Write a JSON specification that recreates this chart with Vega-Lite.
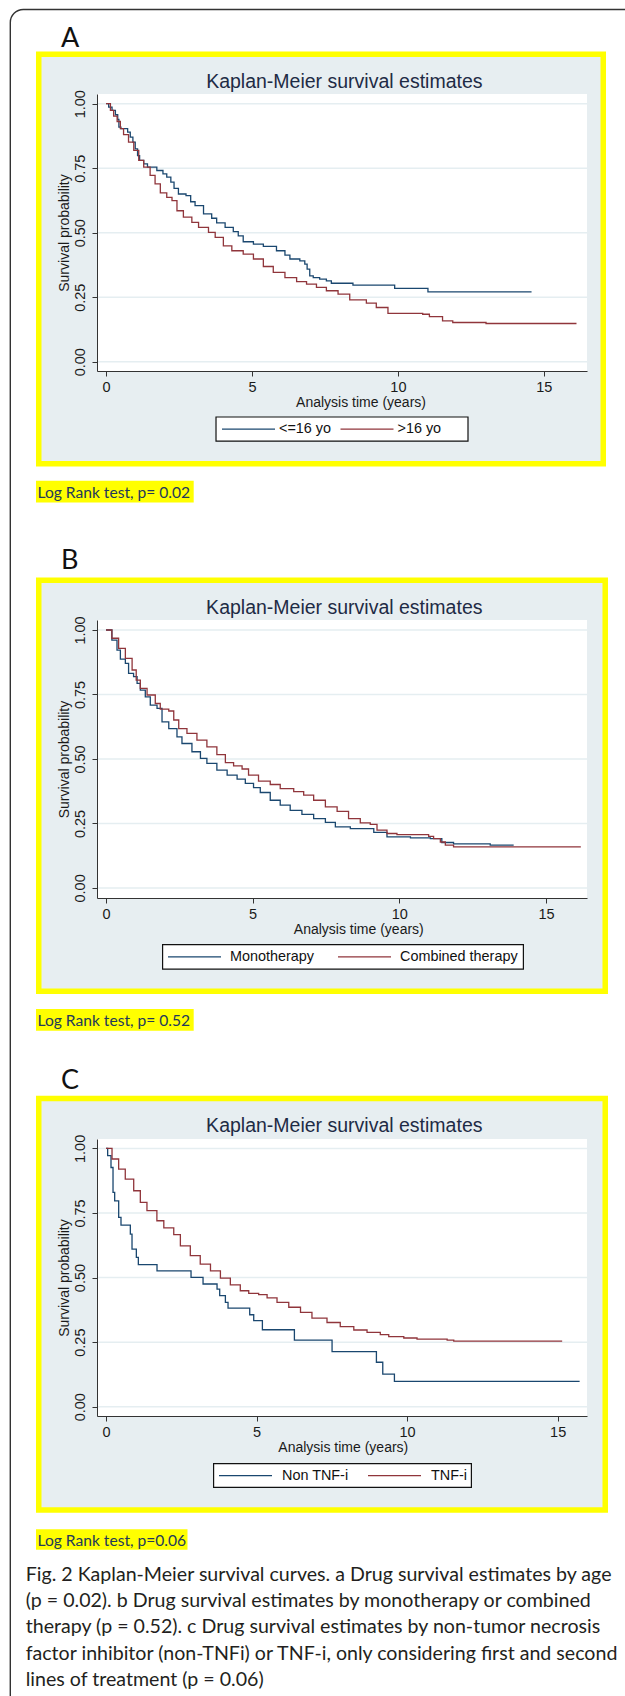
{
"$schema": "https://vega.github.io/schema/vega-lite/v6.json",
"background": "#ffffff",
"padding": 0,
"autosize": {"type": "pad"},
"bounds": "flush",
"spacing": 249,
"resolve": {"scale": {"color": "independent"}, "legend": {"color": "independent"}},
"config": {
  "view": {"stroke": null},
  "line": {"interpolate": "step-after", "strokeWidth": 1.3},
  "axis": {"domainColor": "#333333", "tickColor": "#333333", "labelColor": "#1a1a1a", "titleColor": "#1a1a1a", "labelFont": "Liberation Sans Narrow, Liberation Sans", "titleFont": "Liberation Sans", "labelFontSize": 14.5, "titleFontSize": 14, "titleFontWeight": "normal", "tickSize": 5, "grid": false, "labelFlush": false, "domainWidth": 1, "tickWidth": 1},
  "axisX": {"labelPadding": 4.5},
  "axisY": {"labelAngle": 270, "labelAlign": "center", "labelBaseline": "bottom", "labelPadding": 5}
},
"datasets": {
  "a": [
    {"t":0,"s":1,"g":"<=16 yo"},{"t":0.09,"s":0.987,"g":"<=16 yo"},{"t":0.205,"s":0.974,"g":"<=16 yo"},{"t":0.32,"s":0.957,"g":"<=16 yo"},{"t":0.4,"s":0.939,"g":"<=16 yo"},{"t":0.44,"s":0.909,"g":"<=16 yo"},{"t":0.51,"s":0.903,"g":"<=16 yo"},{"t":0.74,"s":0.89,"g":"<=16 yo"},{"t":0.83,"s":0.87,"g":"<=16 yo"},{"t":0.92,"s":0.851,"g":"<=16 yo"},{"t":1.0,"s":0.825,"g":"<=16 yo"},{"t":1.08,"s":0.799,"g":"<=16 yo"},{"t":1.15,"s":0.78,"g":"<=16 yo"},{"t":1.29,"s":0.767,"g":"<=16 yo"},{"t":1.42,"s":0.754,"g":"<=16 yo"},{"t":1.74,"s":0.741,"g":"<=16 yo"},{"t":1.95,"s":0.728,"g":"<=16 yo"},{"t":2.08,"s":0.715,"g":"<=16 yo"},{"t":2.22,"s":0.696,"g":"<=16 yo"},{"t":2.33,"s":0.672,"g":"<=16 yo"},{"t":2.48,"s":0.65,"g":"<=16 yo"},{"t":2.74,"s":0.644,"g":"<=16 yo"},{"t":2.9,"s":0.62,"g":"<=16 yo"},{"t":3.05,"s":0.605,"g":"<=16 yo"},{"t":3.34,"s":0.573,"g":"<=16 yo"},{"t":3.62,"s":0.556,"g":"<=16 yo"},{"t":3.79,"s":0.538,"g":"<=16 yo"},{"t":4.08,"s":0.521,"g":"<=16 yo"},{"t":4.36,"s":0.504,"g":"<=16 yo"},{"t":4.53,"s":0.488,"g":"<=16 yo"},{"t":4.7,"s":0.465,"g":"<=16 yo"},{"t":5.05,"s":0.456,"g":"<=16 yo"},{"t":5.39,"s":0.447,"g":"<=16 yo"},{"t":5.84,"s":0.43,"g":"<=16 yo"},{"t":6.13,"s":0.413,"g":"<=16 yo"},{"t":6.3,"s":0.398,"g":"<=16 yo"},{"t":6.64,"s":0.391,"g":"<=16 yo"},{"t":6.81,"s":0.378,"g":"<=16 yo"},{"t":6.89,"s":0.359,"g":"<=16 yo"},{"t":6.98,"s":0.333,"g":"<=16 yo"},{"t":7.1,"s":0.326,"g":"<=16 yo"},{"t":7.32,"s":0.32,"g":"<=16 yo"},{"t":7.55,"s":0.313,"g":"<=16 yo"},{"t":7.72,"s":0.304,"g":"<=16 yo"},{"t":8.46,"s":0.297,"g":"<=16 yo"},{"t":9.89,"s":0.284,"g":"<=16 yo"},{"t":11.03,"s":0.271,"g":"<=16 yo"},{"t":14.58,"s":0.271,"g":"<=16 yo"},
    {"t":0,"s":1,"g":">16 yo"},{"t":0.15,"s":0.974,"g":">16 yo"},{"t":0.26,"s":0.952,"g":">16 yo"},{"t":0.38,"s":0.931,"g":">16 yo"},{"t":0.49,"s":0.903,"g":">16 yo"},{"t":0.6,"s":0.88,"g":">16 yo"},{"t":0.77,"s":0.851,"g":">16 yo"},{"t":0.95,"s":0.819,"g":">16 yo"},{"t":1.12,"s":0.78,"g":">16 yo"},{"t":1.29,"s":0.754,"g":">16 yo"},{"t":1.51,"s":0.722,"g":">16 yo"},{"t":1.68,"s":0.689,"g":">16 yo"},{"t":1.86,"s":0.654,"g":">16 yo"},{"t":2.08,"s":0.637,"g":">16 yo"},{"t":2.26,"s":0.624,"g":">16 yo"},{"t":2.43,"s":0.585,"g":">16 yo"},{"t":2.65,"s":0.56,"g":">16 yo"},{"t":2.94,"s":0.54,"g":">16 yo"},{"t":3.17,"s":0.521,"g":">16 yo"},{"t":3.51,"s":0.501,"g":">16 yo"},{"t":3.74,"s":0.482,"g":">16 yo"},{"t":4.02,"s":0.449,"g":">16 yo"},{"t":4.31,"s":0.43,"g":">16 yo"},{"t":4.7,"s":0.417,"g":">16 yo"},{"t":5.05,"s":0.398,"g":">16 yo"},{"t":5.39,"s":0.369,"g":">16 yo"},{"t":5.73,"s":0.346,"g":">16 yo"},{"t":6.13,"s":0.326,"g":">16 yo"},{"t":6.53,"s":0.31,"g":">16 yo"},{"t":6.87,"s":0.301,"g":">16 yo"},{"t":7.21,"s":0.288,"g":">16 yo"},{"t":7.55,"s":0.275,"g":">16 yo"},{"t":7.95,"s":0.262,"g":">16 yo"},{"t":8.35,"s":0.24,"g":">16 yo"},{"t":8.92,"s":0.227,"g":">16 yo"},{"t":9.26,"s":0.21,"g":">16 yo"},{"t":9.66,"s":0.187,"g":">16 yo"},{"t":10.85,"s":0.184,"g":">16 yo"},{"t":11.08,"s":0.175,"g":">16 yo"},{"t":11.53,"s":0.158,"g":">16 yo"},{"t":11.88,"s":0.152,"g":">16 yo"},{"t":13.02,"s":0.148,"g":">16 yo"},{"t":16.12,"s":0.148,"g":">16 yo"}
  ],
  "b": [
    {"t":0,"s":1,"g":"Monotherapy"},{"t":0.2,"s":0.961,"g":"Monotherapy"},{"t":0.375,"s":0.922,"g":"Monotherapy"},{"t":0.49,"s":0.887,"g":"Monotherapy"},{"t":0.66,"s":0.871,"g":"Monotherapy"},{"t":0.77,"s":0.832,"g":"Monotherapy"},{"t":0.94,"s":0.819,"g":"Monotherapy"},{"t":1.06,"s":0.793,"g":"Monotherapy"},{"t":1.17,"s":0.767,"g":"Monotherapy"},{"t":1.34,"s":0.741,"g":"Monotherapy"},{"t":1.51,"s":0.709,"g":"Monotherapy"},{"t":1.74,"s":0.696,"g":"Monotherapy"},{"t":1.91,"s":0.644,"g":"Monotherapy"},{"t":2.14,"s":0.618,"g":"Monotherapy"},{"t":2.42,"s":0.586,"g":"Monotherapy"},{"t":2.59,"s":0.56,"g":"Monotherapy"},{"t":2.93,"s":0.528,"g":"Monotherapy"},{"t":3.22,"s":0.502,"g":"Monotherapy"},{"t":3.44,"s":0.483,"g":"Monotherapy"},{"t":3.78,"s":0.457,"g":"Monotherapy"},{"t":4.13,"s":0.437,"g":"Monotherapy"},{"t":4.47,"s":0.422,"g":"Monotherapy"},{"t":4.75,"s":0.405,"g":"Monotherapy"},{"t":5.03,"s":0.389,"g":"Monotherapy"},{"t":5.26,"s":0.37,"g":"Monotherapy"},{"t":5.6,"s":0.34,"g":"Monotherapy"},{"t":5.94,"s":0.321,"g":"Monotherapy"},{"t":6.28,"s":0.301,"g":"Monotherapy"},{"t":6.68,"s":0.285,"g":"Monotherapy"},{"t":7.08,"s":0.269,"g":"Monotherapy"},{"t":7.48,"s":0.254,"g":"Monotherapy"},{"t":7.82,"s":0.237,"g":"Monotherapy"},{"t":8.33,"s":0.23,"g":"Monotherapy"},{"t":9.13,"s":0.215,"g":"Monotherapy"},{"t":9.58,"s":0.198,"g":"Monotherapy"},{"t":10.38,"s":0.194,"g":"Monotherapy"},{"t":11.06,"s":0.191,"g":"Monotherapy"},{"t":11.45,"s":0.176,"g":"Monotherapy"},{"t":11.85,"s":0.171,"g":"Monotherapy"},{"t":13.1,"s":0.166,"g":"Monotherapy"},{"t":13.9,"s":0.166,"g":"Monotherapy"},
    {"t":0,"s":1,"g":"Combined therapy"},{"t":0.2,"s":0.968,"g":"Combined therapy"},{"t":0.43,"s":0.929,"g":"Combined therapy"},{"t":0.66,"s":0.89,"g":"Combined therapy"},{"t":0.89,"s":0.845,"g":"Combined therapy"},{"t":1.03,"s":0.806,"g":"Combined therapy"},{"t":1.17,"s":0.774,"g":"Combined therapy"},{"t":1.4,"s":0.748,"g":"Combined therapy"},{"t":1.68,"s":0.715,"g":"Combined therapy"},{"t":1.85,"s":0.693,"g":"Combined therapy"},{"t":2.14,"s":0.686,"g":"Combined therapy"},{"t":2.31,"s":0.651,"g":"Combined therapy"},{"t":2.48,"s":0.618,"g":"Combined therapy"},{"t":2.76,"s":0.599,"g":"Combined therapy"},{"t":3.1,"s":0.573,"g":"Combined therapy"},{"t":3.44,"s":0.547,"g":"Combined therapy"},{"t":3.78,"s":0.517,"g":"Combined therapy"},{"t":4.07,"s":0.486,"g":"Combined therapy"},{"t":4.35,"s":0.473,"g":"Combined therapy"},{"t":4.64,"s":0.461,"g":"Combined therapy"},{"t":4.86,"s":0.437,"g":"Combined therapy"},{"t":5.2,"s":0.414,"g":"Combined therapy"},{"t":5.6,"s":0.401,"g":"Combined therapy"},{"t":5.94,"s":0.385,"g":"Combined therapy"},{"t":6.4,"s":0.373,"g":"Combined therapy"},{"t":6.74,"s":0.36,"g":"Combined therapy"},{"t":7.08,"s":0.34,"g":"Combined therapy"},{"t":7.48,"s":0.314,"g":"Combined therapy"},{"t":7.88,"s":0.297,"g":"Combined therapy"},{"t":8.27,"s":0.269,"g":"Combined therapy"},{"t":8.67,"s":0.252,"g":"Combined therapy"},{"t":9.01,"s":0.246,"g":"Combined therapy"},{"t":9.24,"s":0.224,"g":"Combined therapy"},{"t":9.58,"s":0.211,"g":"Combined therapy"},{"t":9.92,"s":0.207,"g":"Combined therapy"},{"t":11.0,"s":0.2,"g":"Combined therapy"},{"t":11.17,"s":0.191,"g":"Combined therapy"},{"t":11.4,"s":0.178,"g":"Combined therapy"},{"t":11.57,"s":0.166,"g":"Combined therapy"},{"t":11.85,"s":0.159,"g":"Combined therapy"},{"t":16.19,"s":0.159,"g":"Combined therapy"}
  ],
  "c": [
    {"t":0,"s":1,"g":"Non TNF-i"},{"t":0.055,"s":0.972,"g":"Non TNF-i"},{"t":0.166,"s":0.926,"g":"Non TNF-i"},{"t":0.233,"s":0.83,"g":"Non TNF-i"},{"t":0.288,"s":0.797,"g":"Non TNF-i"},{"t":0.421,"s":0.733,"g":"Non TNF-i"},{"t":0.498,"s":0.703,"g":"Non TNF-i"},{"t":0.808,"s":0.668,"g":"Non TNF-i"},{"t":0.864,"s":0.61,"g":"Non TNF-i"},{"t":1.008,"s":0.578,"g":"Non TNF-i"},{"t":1.074,"s":0.55,"g":"Non TNF-i"},{"t":1.694,"s":0.526,"g":"Non TNF-i"},{"t":2.824,"s":0.501,"g":"Non TNF-i"},{"t":3.223,"s":0.475,"g":"Non TNF-i"},{"t":3.688,"s":0.455,"g":"Non TNF-i"},{"t":3.776,"s":0.43,"g":"Non TNF-i"},{"t":3.965,"s":0.404,"g":"Non TNF-i"},{"t":4.053,"s":0.382,"g":"Non TNF-i"},{"t":4.773,"s":0.356,"g":"Non TNF-i"},{"t":4.906,"s":0.333,"g":"Non TNF-i"},{"t":5.194,"s":0.298,"g":"Non TNF-i"},{"t":6.257,"s":0.258,"g":"Non TNF-i"},{"t":7.508,"s":0.213,"g":"Non TNF-i"},{"t":8.981,"s":0.172,"g":"Non TNF-i"},{"t":9.192,"s":0.126,"g":"Non TNF-i"},{"t":9.579,"s":0.098,"g":"Non TNF-i"},{"t":15.73,"s":0.098,"g":"Non TNF-i"},
    {"t":0,"s":1,"g":"TNF-i"},{"t":0.2,"s":0.959,"g":"TNF-i"},{"t":0.42,"s":0.92,"g":"TNF-i"},{"t":0.64,"s":0.881,"g":"TNF-i"},{"t":0.92,"s":0.836,"g":"TNF-i"},{"t":1.14,"s":0.791,"g":"TNF-i"},{"t":1.36,"s":0.759,"g":"TNF-i"},{"t":1.69,"s":0.72,"g":"TNF-i"},{"t":1.92,"s":0.692,"g":"TNF-i"},{"t":2.25,"s":0.666,"g":"TNF-i"},{"t":2.47,"s":0.623,"g":"TNF-i"},{"t":2.8,"s":0.585,"g":"TNF-i"},{"t":3.13,"s":0.552,"g":"TNF-i"},{"t":3.47,"s":0.526,"g":"TNF-i"},{"t":3.8,"s":0.498,"g":"TNF-i"},{"t":4.13,"s":0.472,"g":"TNF-i"},{"t":4.46,"s":0.449,"g":"TNF-i"},{"t":4.74,"s":0.439,"g":"TNF-i"},{"t":5.07,"s":0.434,"g":"TNF-i"},{"t":5.35,"s":0.421,"g":"TNF-i"},{"t":5.68,"s":0.404,"g":"TNF-i"},{"t":6.07,"s":0.385,"g":"TNF-i"},{"t":6.46,"s":0.365,"g":"TNF-i"},{"t":6.84,"s":0.343,"g":"TNF-i"},{"t":7.34,"s":0.326,"g":"TNF-i"},{"t":7.78,"s":0.31,"g":"TNF-i"},{"t":8.23,"s":0.297,"g":"TNF-i"},{"t":8.67,"s":0.288,"g":"TNF-i"},{"t":9.11,"s":0.279,"g":"TNF-i"},{"t":9.39,"s":0.271,"g":"TNF-i"},{"t":9.89,"s":0.266,"g":"TNF-i"},{"t":10.33,"s":0.262,"g":"TNF-i"},{"t":11.33,"s":0.258,"g":"TNF-i"},{"t":11.55,"s":0.254,"g":"TNF-i"},{"t":15.15,"s":0.254,"g":"TNF-i"}
  ]
},
"vconcat": [
  {
    "width": 490, "height": 277,
    "data": {"name": "a"},
    "layer": [
      {"data": {"values": [{}]}, "mark": {"type": "rect", "fill": "#ffffff", "strokeWidth": 0},
       "encoding": {"x": {"datum": -3.5995, "type": "quantitative", "scale": {"domain": [-0.31, 16.48], "nice": false, "zero": false}}, "x2": {"datum": 17.816},
                    "y": {"datum": 1.39909, "type": "quantitative", "scale": {"domain": [-0.036, 1.0375], "nice": false, "zero": false}}, "y2": {"datum": -5.1738}}},
      {"data": {"values": [{}]}, "mark": {"type": "rect", "filled": false, "stroke": "#333333", "strokeWidth": 1.4, "cornerRadius": 13},
       "encoding": {"x": {"datum": -3.2808, "type": "quantitative", "scale": {"domain": [-0.31, 16.48], "nice": false, "zero": false}}, "x2": {"datum": 19.0157},
                    "y": {"datum": 1.36498, "type": "quantitative", "scale": {"domain": [-0.036, 1.0375], "nice": false, "zero": false}}, "y2": {"datum": -5.3056}}},
      {"data": {"values": [{}]}, "mark": {"type": "rect", "fill": "#e7eef1", "stroke": "#ffff00", "strokeWidth": 5.5},
       "encoding": {"x": {"datum": -2.306, "type": "quantitative", "scale": {"domain": [-0.31, 16.48], "nice": false, "zero": false}}, "x2": {"datum": 17.037},
                    "y": {"datum": 1.1919, "type": "quantitative", "scale": {"domain": [-0.036, 1.0375], "nice": false, "zero": false}}, "y2": {"datum": -0.3951}}},
      {"data": {"values": [{}]}, "mark": {"type": "rect", "fill": "#ffffff"},
       "encoding": {"x": {"datum": -0.31, "type": "quantitative", "scale": {"domain": [-0.31, 16.48], "nice": false, "zero": false}}, "x2": {"datum": 16.48},
                    "y": {"datum": -0.036, "type": "quantitative", "scale": {"domain": [-0.036, 1.0375], "nice": false, "zero": false}}, "y2": {"datum": 1.0375}}},
      {"data": {"values": [{"gy": 0}, {"gy": 0.25}, {"gy": 0.5}, {"gy": 0.75}, {"gy": 1}]}, "mark": {"type": "rule", "color": "#e5eef1", "strokeWidth": 1.5},
       "encoding": {"y": {"field": "gy", "type": "quantitative", "scale": {"domain": [-0.036, 1.0375], "nice": false, "zero": false}}}},
      {"mark": {"type": "line", "interpolate": "step-after", "strokeWidth": 1.3},
       "encoding": {
         "x": {"field": "t", "type": "quantitative", "scale": {"domain": [-0.31, 16.48], "nice": false, "zero": false}, "axis": {"zindex": 2, "values": [0, 5, 10, 15], "title": "Analysis time (years)", "titleX": 263.5, "titleY": 24}},
         "y": {"field": "s", "type": "quantitative", "scale": {"domain": [-0.036, 1.0375], "nice": false, "zero": false}, "axis": {"zindex": 2, "values": [0, 0.25, 0.5, 0.75, 1], "format": ".2f", "title": "Survival probability", "titleX": -26, "titleY": 138.5}},
         "color": {"field": "g", "type": "nominal", "scale": {"domain": ["<=16 yo", ">16 yo"], "range": ["#1a476f", "#90353b"]},
                   "legend": {"orient": "none", "legendX": 124, "legendY": 307.5, "direction": "horizontal", "title": null, "symbolType": "stroke", "symbolSize": 2809, "symbolStrokeWidth": 1.3, "labelFont": "Liberation Sans", "labelFontSize": 14.4, "labelColor": "#111111", "labelOffset": 3, "columnPadding": 5.5, "padding": 0, "labelLimit": 400}}
       }},
      {"data": {"values": [{}]}, "mark": {"type": "rect", "fill": "#ffffff", "stroke": "#111111", "strokeWidth": 1.2},
       "encoding": {"x": {"datum": 3.768, "type": "quantitative", "scale": {"domain": [-0.31, 16.48], "nice": false, "zero": false}}, "x2": {"datum": 12.4025},
                    "y": {"datum": -0.2143, "type": "quantitative", "scale": {"domain": [-0.036, 1.0375], "nice": false, "zero": false}}, "y2": {"datum": -0.3077}}},
      {"data": {"values": [{}]}, "mark": {"type": "text", "text": "Kaplan-Meier survival estimates", "font": "Liberation Sans", "fontSize": 19.5, "color": "#1e2b45", "align": "center", "baseline": "alphabetic"},
       "encoding": {"x": {"datum": 8.164, "type": "quantitative", "scale": {"domain": [-0.31, 16.48], "nice": false, "zero": false}},
                    "y": {"datum": 1.0619, "type": "quantitative", "scale": {"domain": [-0.036, 1.0375], "nice": false, "zero": false}}}},
      {"data": {"values": [{}]}, "mark": {"type": "text", "text": "A", "font": "Lato", "fontSize": 27, "color": "#111111", "align": "left", "baseline": "alphabetic"},
       "encoding": {"x": {"datum": -1.5436, "type": "quantitative", "scale": {"domain": [-0.31, 16.48], "nice": false, "zero": false}},
                    "y": {"datum": 1.2208, "type": "quantitative", "scale": {"domain": [-0.036, 1.0375], "nice": false, "zero": false}}}},
      {"data": {"values": [{}]}, "mark": {"type": "rect", "fill": "#ffff00"},
       "encoding": {"x": {"datum": -2.4002, "type": "quantitative", "scale": {"domain": [-0.31, 16.48], "nice": false, "zero": false}}, "x2": {"datum": 3.0035},
                    "y": {"datum": -0.4612, "type": "quantitative", "scale": {"domain": [-0.036, 1.0375], "nice": false, "zero": false}}, "y2": {"datum": -0.5453}}},
      {"data": {"values": [{}]}, "mark": {"type": "text", "text": "Log Rank test, p= 0.02", "font": "Lato", "fontSize": 15.6, "color": "#23395b", "align": "left", "baseline": "alphabetic"},
       "encoding": {"x": {"datum": -2.3488, "type": "quantitative", "scale": {"domain": [-0.31, 16.48], "nice": false, "zero": false}},
                    "y": {"datum": -0.5282, "type": "quantitative", "scale": {"domain": [-0.036, 1.0375], "nice": false, "zero": false}}}}
    ]
  },
  {
    "bounds": "flush",
    "spacing": 241,
    "resolve": {"scale": {"color": "independent"}, "legend": {"color": "independent"}},
    "vconcat": [
      {
        "width": 490, "height": 278,
        "data": {"name": "b"},
        "layer": [
          {"data": {"values": [{}]}, "mark": {"type": "rect", "fill": "#e7eef1", "stroke": "#ffff00", "strokeWidth": 5.5},
           "encoding": {"x": {"datum": -2.293, "type": "quantitative", "scale": {"domain": [-0.307, 16.4], "nice": false, "zero": false}}, "x2": {"datum": 17.0217},
                        "y": {"datum": 1.1933, "type": "quantitative", "scale": {"domain": [-0.0391, 1.0388], "nice": false, "zero": false}}, "y2": {"datum": -0.4007}}},
          {"data": {"values": [{}]}, "mark": {"type": "rect", "fill": "#ffffff"},
           "encoding": {"x": {"datum": -0.307, "type": "quantitative", "scale": {"domain": [-0.307, 16.4], "nice": false, "zero": false}}, "x2": {"datum": 16.4},
                        "y": {"datum": -0.0391, "type": "quantitative", "scale": {"domain": [-0.0391, 1.0388], "nice": false, "zero": false}}, "y2": {"datum": 1.0388}}},
          {"data": {"values": [{"gy": 0}, {"gy": 0.25}, {"gy": 0.5}, {"gy": 0.75}, {"gy": 1}]}, "mark": {"type": "rule", "color": "#e5eef1", "strokeWidth": 1.5},
           "encoding": {"y": {"field": "gy", "type": "quantitative", "scale": {"domain": [-0.0391, 1.0388], "nice": false, "zero": false}}}},
          {"mark": {"type": "line", "interpolate": "step-after", "strokeWidth": 1.3},
           "encoding": {
             "x": {"field": "t", "type": "quantitative", "scale": {"domain": [-0.307, 16.4], "nice": false, "zero": false}, "axis": {"zindex": 2, "values": [0, 5, 10, 15], "title": "Analysis time (years)", "titleX": 261.3, "titleY": 24}},
             "y": {"field": "s", "type": "quantitative", "scale": {"domain": [-0.0391, 1.0388], "nice": false, "zero": false}, "axis": {"zindex": 2, "values": [0, 0.25, 0.5, 0.75, 1], "format": ".2f", "title": "Survival probability", "titleX": -26, "titleY": 139}},
             "color": {"field": "g", "type": "nominal", "scale": {"domain": ["Monotherapy", "Combined therapy"], "range": ["#1a476f", "#90353b"]},
                       "legend": {"orient": "none", "legendX": 70, "legendY": 309.4, "direction": "horizontal", "title": null, "symbolType": "stroke", "symbolSize": 2809, "symbolStrokeWidth": 1.3, "labelFont": "Liberation Sans", "labelFontSize": 14.4, "labelColor": "#111111", "labelOffset": 8, "columnPadding": 21, "padding": 0, "labelLimit": 400}}
           }},
          {"data": {"values": [{}]}, "mark": {"type": "rect", "fill": "#ffffff", "stroke": "#111111", "strokeWidth": 1.2},
           "encoding": {"x": {"datum": 1.9296, "type": "quantitative", "scale": {"domain": [-0.307, 16.4], "nice": false, "zero": false}}, "x2": {"datum": 14.231},
                        "y": {"datum": -0.2198, "type": "quantitative", "scale": {"domain": [-0.0391, 1.0388], "nice": false, "zero": false}}, "y2": {"datum": -0.3148}}},
          {"data": {"values": [{}]}, "mark": {"type": "text", "text": "Kaplan-Meier survival estimates", "font": "Liberation Sans", "fontSize": 19.5, "color": "#1e2b45", "align": "center", "baseline": "alphabetic"},
           "encoding": {"x": {"datum": 8.1247, "type": "quantitative", "scale": {"domain": [-0.307, 16.4], "nice": false, "zero": false}},
                        "y": {"datum": 1.0632, "type": "quantitative", "scale": {"domain": [-0.0391, 1.0388], "nice": false, "zero": false}}}},
          {"data": {"values": [{}]}, "mark": {"type": "text", "text": "B", "font": "Lato", "fontSize": 27, "color": "#111111", "align": "left", "baseline": "alphabetic"},
           "encoding": {"x": {"datum": -1.5344, "type": "quantitative", "scale": {"domain": [-0.307, 16.4], "nice": false, "zero": false}},
                        "y": {"datum": 1.2366, "type": "quantitative", "scale": {"domain": [-0.0391, 1.0388], "nice": false, "zero": false}}}},
          {"data": {"values": [{}]}, "mark": {"type": "rect", "fill": "#ffff00"},
           "encoding": {"x": {"datum": -2.3868, "type": "quantitative", "scale": {"domain": [-0.307, 16.4], "nice": false, "zero": false}}, "x2": {"datum": 2.99},
                        "y": {"datum": -0.4695, "type": "quantitative", "scale": {"domain": [-0.0391, 1.0388], "nice": false, "zero": false}}, "y2": {"datum": -0.5537}}},
          {"data": {"values": [{}]}, "mark": {"type": "text", "text": "Log Rank test, p= 0.52", "font": "Lato", "fontSize": 15.6, "color": "#23395b", "align": "left", "baseline": "alphabetic"},
           "encoding": {"x": {"datum": -2.3356, "type": "quantitative", "scale": {"domain": [-0.307, 16.4], "nice": false, "zero": false}},
                        "y": {"datum": -0.5366, "type": "quantitative", "scale": {"domain": [-0.0391, 1.0388], "nice": false, "zero": false}}}}
        ]
      },
      {
        "width": 490, "height": 277,
        "data": {"name": "c"},
        "layer": [
          {"data": {"values": [{}]}, "mark": {"type": "rect", "fill": "#e7eef1", "stroke": "#ffff00", "strokeWidth": 5.5},
           "encoding": {"x": {"datum": -2.2336, "type": "quantitative", "scale": {"domain": [-0.299, 15.975], "nice": false, "zero": false}}, "x2": {"datum": 16.5808},
                        "y": {"datum": 1.1934, "type": "quantitative", "scale": {"domain": [-0.036, 1.0364], "nice": false, "zero": false}}, "y2": {"datum": -0.3997}}},
          {"data": {"values": [{}]}, "mark": {"type": "rect", "fill": "#ffffff"},
           "encoding": {"x": {"datum": -0.299, "type": "quantitative", "scale": {"domain": [-0.299, 15.975], "nice": false, "zero": false}}, "x2": {"datum": 15.975},
                        "y": {"datum": -0.036, "type": "quantitative", "scale": {"domain": [-0.036, 1.0364], "nice": false, "zero": false}}, "y2": {"datum": 1.0364}}},
          {"data": {"values": [{"gy": 0}, {"gy": 0.25}, {"gy": 0.5}, {"gy": 0.75}, {"gy": 1}]}, "mark": {"type": "rule", "color": "#e5eef1", "strokeWidth": 1.5},
           "encoding": {"y": {"field": "gy", "type": "quantitative", "scale": {"domain": [-0.036, 1.0364], "nice": false, "zero": false}}}},
          {"mark": {"type": "line", "interpolate": "step-after", "strokeWidth": 1.3},
           "encoding": {
             "x": {"field": "t", "type": "quantitative", "scale": {"domain": [-0.299, 15.975], "nice": false, "zero": false}, "axis": {"zindex": 2, "values": [0, 5, 10, 15], "title": "Analysis time (years)", "titleX": 245.8, "titleY": 24}},
             "y": {"field": "s", "type": "quantitative", "scale": {"domain": [-0.036, 1.0364], "nice": false, "zero": false}, "axis": {"zindex": 2, "values": [0, 0.25, 0.5, 0.75, 1], "format": ".2f", "title": "Survival probability", "titleX": -26, "titleY": 138.5}},
             "color": {"field": "g", "type": "nominal", "scale": {"domain": ["Non TNF-i", "TNF-i"], "range": ["#1a476f", "#90353b"]},
                       "legend": {"orient": "none", "legendX": 121, "legendY": 309, "direction": "horizontal", "title": null, "symbolType": "stroke", "symbolSize": 2809, "symbolStrokeWidth": 1.3, "labelFont": "Liberation Sans", "labelFontSize": 14.4, "labelColor": "#111111", "labelOffset": 9, "columnPadding": 16, "padding": 0, "labelLimit": 400}}
           }},
          {"data": {"values": [{}]}, "mark": {"type": "rect", "fill": "#ffffff", "stroke": "#111111", "strokeWidth": 1.2},
           "encoding": {"x": {"datum": 3.5735, "type": "quantitative", "scale": {"domain": [-0.299, 15.975], "nice": false, "zero": false}}, "x2": {"datum": 12.1354},
                        "y": {"datum": -0.2203, "type": "quantitative", "scale": {"domain": [-0.036, 1.0364], "nice": false, "zero": false}}, "y2": {"datum": -0.3124}}},
          {"data": {"values": [{}]}, "mark": {"type": "text", "text": "Kaplan-Meier survival estimates", "font": "Liberation Sans", "fontSize": 19.5, "color": "#1e2b45", "align": "center", "baseline": "alphabetic"},
           "encoding": {"x": {"datum": 7.9142, "type": "quantitative", "scale": {"domain": [-0.299, 15.975], "nice": false, "zero": false}},
                        "y": {"datum": 1.0647, "type": "quantitative", "scale": {"domain": [-0.036, 1.0364], "nice": false, "zero": false}}}},
          {"data": {"values": [{}]}, "mark": {"type": "text", "text": "C", "font": "Lato", "fontSize": 27, "color": "#111111", "align": "left", "baseline": "alphabetic"},
           "encoding": {"x": {"datum": -1.4946, "type": "quantitative", "scale": {"domain": [-0.299, 15.975], "nice": false, "zero": false}},
                        "y": {"datum": 1.2292, "type": "quantitative", "scale": {"domain": [-0.036, 1.0364], "nice": false, "zero": false}}}},
          {"data": {"values": [{}]}, "mark": {"type": "rect", "fill": "#ffff00"},
           "encoding": {"x": {"datum": -2.3249, "type": "quantitative", "scale": {"domain": [-0.299, 15.975], "nice": false, "zero": false}}, "x2": {"datum": 2.7067},
                        "y": {"datum": -0.4743, "type": "quantitative", "scale": {"domain": [-0.036, 1.0364], "nice": false, "zero": false}}, "y2": {"datum": -0.5536}}},
          {"data": {"values": [{}]}, "mark": {"type": "text", "text": "Log Rank test, p=0.06", "font": "Lato", "fontSize": 15.6, "color": "#23395b", "align": "left", "baseline": "alphabetic"},
           "encoding": {"x": {"datum": -2.2751, "type": "quantitative", "scale": {"domain": [-0.299, 15.975], "nice": false, "zero": false}},
                        "y": {"datum": -0.5381, "type": "quantitative", "scale": {"domain": [-0.036, 1.0364], "nice": false, "zero": false}}}},
          {"data": {"values": [{}]}, "mark": {"type": "text", "text": ["Fig. 2 Kaplan-Meier survival curves. a Drug survival estimates by age", "(p = 0.02). b Drug survival estimates by monotherapy or combined", "therapy (p = 0.52). c Drug survival estimates by non-tumor necrosis", "factor inhibitor (non-TNFi) or TNF-i, only considering first and second", "lines of treatment (p = 0.06)"], "font": "Lato", "fontSize": 19.6, "lineHeight": 26.4, "color": "#231f20", "align": "left", "baseline": "alphabetic"},
           "encoding": {"x": {"datum": -2.667, "type": "quantitative", "scale": {"domain": [-0.299, 15.975], "nice": false, "zero": false}},
                        "y": {"datum": -0.6736, "type": "quantitative", "scale": {"domain": [-0.036, 1.0364], "nice": false, "zero": false}}}}
        ]
      }
    ]
  }
]
}
